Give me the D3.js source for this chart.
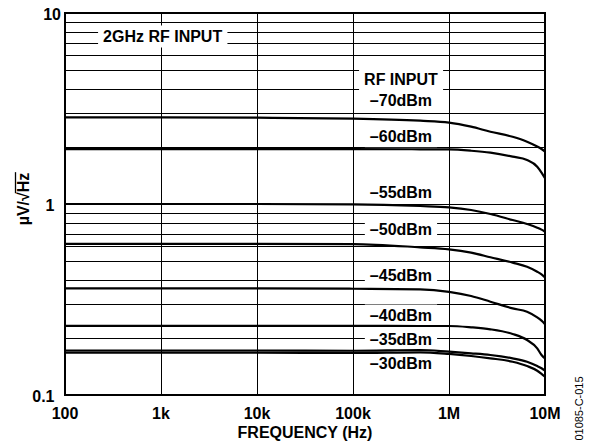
<!DOCTYPE html>
<html>
<head>
<meta charset="utf-8">
<script src="https://cdn.jsdelivr.net/npm/d3@7"></script>
<style>
  body { margin: 0; background: #fff; }
  text { font-family: "Liberation Sans", Arial, sans-serif; font-weight: bold; fill: #000; }
</style>
</head>
<body>
<div id="chart"></div>
<script>
// frequency points (Hz)
var freqs = [100, 1e3, 1e4, 1e5, 5e5, 1e6, 1.7e6, 2.7e6, 4.6e6, 6.5e6, 8.3e6, 9.2e6, 1e7];

// noise (uV/rtHz) per RF input level
var dbm70 = [2.84, 2.84, 2.83, 2.80, 2.73, 2.67, 2.54, 2.39, 2.25, 2.12, 2.00, 1.94, 1.88];
var dbm60 = [1.94, 1.94, 1.94, 1.94, 1.934, 1.93, 1.90, 1.856, 1.769, 1.70, 1.568, 1.46, 1.363];
var dbm55 = [1.0, 1.0, 1.0, 0.996, 0.976, 0.961, 0.930, 0.886, 0.824, 0.786, 0.752, 0.734, 0.716];
var dbm50 = [0.618, 0.618, 0.618, 0.617, 0.593, 0.579, 0.556, 0.526, 0.493, 0.469, 0.442, 0.428, 0.413];
var dbm45 = [0.362, 0.362, 0.362, 0.360, 0.3575, 0.347, 0.330, 0.308, 0.284, 0.273, 0.255, 0.245, 0.235];
var dbm40 = [0.23, 0.23, 0.23, 0.23, 0.2298, 0.2298, 0.2262, 0.2208, 0.2087, 0.194, 0.1756, 0.162, 0.1556];
var dbm35 = [0.171, 0.171, 0.171, 0.1705, 0.172, 0.1685, 0.1653, 0.162, 0.1556, 0.1493, 0.1418, 0.138, 0.134];
var dbm30 = [0.1665, 0.1665, 0.1665, 0.166, 0.1673, 0.164, 0.160, 0.1556, 0.1493, 0.1418, 0.134, 0.129, 0.1247];
var series = [dbm70, dbm60, dbm55, dbm50, dbm45, dbm40, dbm35, dbm30];

var xTicks = [100, 1e3, 1e4, 1e5, 1e6, 1e7];
var xTickLabels = ["100", "1k", "10k", "100k", "1M", "10M"];
var yTicks = [0.1, 1, 10];
var yTickLabels = ["0.1", "1", "10"];

// annotation texts and where they sit (in data units)
var noteTexts = ["2GHz RF INPUT", "RF INPUT", "\u201370dBm", "\u201360dBm", "\u201355dBm",
                 "\u201350dBm", "\u201345dBm", "\u201340dBm", "\u201335dBm", "\u201330dBm"];
var noteFreqs = [1.04e3, 3.16e5, 3.16e5, 3.16e5, 3.16e5, 3.16e5, 3.16e5, 3.16e5, 3.16e5, 3.16e5];
var noteVals = [7.05, 4.2, 3.27, 2.12, 1.08, 0.688, 0.397, 0.244, 0.1827, 0.1368];

var W = 602, H = 447;
var pL = 65, pR = 545, pT = 13, pB = 395;
var fs = 16;

var svg = d3.select("#chart").append("svg")
    .attr("width", W).attr("height", H);

var x = d3.scaleLog().domain([100, 1e7]).range([pL, pR]);
var y = d3.scaleLog().domain([0.1, 10]).range([pB, pT]);

// minor horizontal grid 1..9 per decade
var hGrid = [];
[0.1, 1].forEach(function(dec) {
    for (var k = 1; k <= 9; ++k) hGrid.push(dec * k);
});
svg.append("g").selectAll("line")
    .data(hGrid)
    .enter().append("line")
    .attr("x1", pL).attr("x2", pR)
    .attr("y1", function(d) { return Math.round(y(d)) + 0.5; })
    .attr("y2", function(d) { return Math.round(y(d)) + 0.5; })
    .attr("stroke", "#000").attr("stroke-width", 1);

svg.append("g").selectAll("line")
    .data(xTicks)
    .enter().append("line")
    .attr("x1", function(d) { return Math.round(x(d)) + 0.5; })
    .attr("x2", function(d) { return Math.round(x(d)) + 0.5; })
    .attr("y1", pT).attr("y2", pB)
    .attr("stroke", "#000").attr("stroke-width", 1);

// label backgrounds go under the curves
var boxes = svg.append("g");
var curves = svg.append("g");
var notes = svg.append("g");

var line = d3.line()
    .x(function(d, i) { return x(freqs[i]); })
    .y(function(d) { return y(d); })
    .curve(d3.curveMonotoneX);

curves.selectAll("path")
    .data(series)
    .enter().append("path")
    .attr("d", line)
    .attr("fill", "none")
    .attr("stroke", "#000")
    .attr("stroke-width", 2.2);

for (var i = 0; i < noteTexts.length; ++i) {
    var t = notes.append("text")
        .attr("x", x(noteFreqs[i]))
        .attr("y", y(noteVals[i]))
        .attr("text-anchor", "middle")
        .style("font-size", fs + "px")
        .text(noteTexts[i]);
    var bb = t.node().getBBox();
    var by = y(noteVals[i]);
    boxes.append("rect")
        .attr("x", bb.x - 5)
        .attr("y", by - 16.5)
        .attr("width", bb.width + 10)
        .attr("height", 22)
        .attr("fill", "#fff");
}

// frame
svg.append("rect")
    .attr("x", pL).attr("y", pT)
    .attr("width", pR - pL).attr("height", pB - pT)
    .attr("fill", "none").attr("stroke", "#000").attr("stroke-width", 2);

// tick labels
svg.append("g").selectAll("text")
    .data(xTicks)
    .enter().append("text")
    .attr("x", function(d) { return x(d); })
    .attr("y", 418.5)
    .attr("text-anchor", "middle")
    .style("font-size", fs + "px")
    .text(function(d, i) { return xTickLabels[i]; });

svg.append("g").selectAll("text")
    .data(yTicks)
    .enter().append("text")
    .attr("x", function(d) { return d === 10 ? 61 : 54.5; })
    .attr("y", function(d) { return y(d) + 6.8; })
    .attr("text-anchor", "end")
    .style("font-size", fs + "px")
    .text(function(d, i) { return yTickLabels[i]; });

svg.append("text")
    .attr("x", (pL + pR) / 2)
    .attr("y", 437.5)
    .attr("text-anchor", "middle")
    .style("font-size", fs + "px")
    .text("FREQUENCY (Hz)");

// y label with radical over Hz
var yl = svg.append("g").attr("transform", "translate(28.5,199) rotate(-90)");
var ylt = yl.append("text")
    .attr("x", 0).attr("y", 0)
    .attr("text-anchor", "middle")
    .style("font-size", fs + "px")
    .text("\u00b5V/\u221aHz");
var tl = ylt.node().getComputedTextLength();
var hzStart = ylt.node().getStartPositionOfChar(4).x;
yl.append("line")
    .attr("x1", hzStart - 1).attr("x2", tl / 2 + 0.5)
    .attr("y1", -13).attr("y2", -13)
    .attr("stroke", "#000").attr("stroke-width", 1.3);

svg.append("text")
    .attr("transform", "translate(583,408.5) rotate(-90)")
    .attr("text-anchor", "middle")
    .style("font-size", "11px")
    .style("font-weight", "normal")
    .text("01085-C-015");
</script>
</body>
</html>
